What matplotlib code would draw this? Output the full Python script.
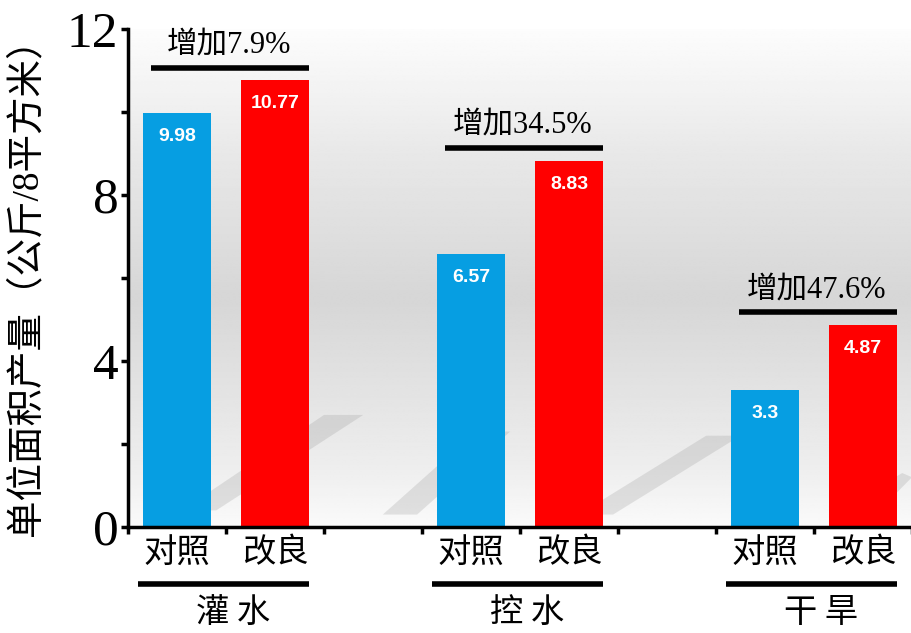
import matplotlib.pyplot as plt
import numpy as np
from matplotlib.patches import Polygon

# data
groups = ['灌 水', '控 水', '干 旱']
series = ['对照', '改良']
control = [9.98, 6.57, 3.3]
improved = [10.77, 8.83, 4.87]
increase = ['增加7.9%', '增加34.5%', '增加47.6%']

blue = '#069ee2'
red = '#ff0000'
cjk = ['Noto Sans CJK SC', 'DejaVu Sans']
mixed = ['Liberation Serif', 'Noto Sans CJK SC']

fig = plt.figure(figsize=(9.12, 6.33), dpi=100)
ax = fig.add_axes([128/912, 1-527/633, 1-128/912, (527-29)/633])

# background gradient (white at top, gray in the middle, white at bottom)
yy = np.linspace(0, 12, 300)
shade = np.interp(yy, [0, 1.5, 5.5, 9, 12], [0.98, 0.93, 0.84, 0.91, 0.99])
grad = np.repeat(shade[::-1, None], 2, axis=1)
ax.imshow(grad, cmap='gray', vmin=0, vmax=1, extent=[0, 8, 0, 12],
          aspect='auto', zorder=0, interpolation='bilinear')

# soft diagonal shadows behind the bars
for pts in [[(0.55, 0.4), (0.9, 0.4), (2.4, 2.7), (2.0, 2.7)],
            [(2.6, 0.3), (2.95, 0.3), (3.9, 2.3), (3.55, 2.3)],
            [(4.6, 0.3), (4.95, 0.3), (6.25, 2.2), (5.9, 2.2)],
            [(7.4, 0.6), (7.75, 0.6), (8.0, 1.2), (7.9, 1.3)]]:
    ax.add_patch(Polygon(pts, closed=True, facecolor='0.55', alpha=0.22,
                         edgecolor='none', zorder=1))

x = np.arange(len(groups)) * 3 + 0.5
w = 0.69
b1 = ax.bar(x, control, w, color=blue, zorder=2)
b2 = ax.bar(x + 1, improved, w, color=red, zorder=2)

for rects in (b1, b2):
    for r in rects:
        h = r.get_height()
        ax.text(r.get_x() + r.get_width()/2, h - 0.57, '%g' % h,
                ha='center', va='center', color='white', fontsize=14,
                family='Liberation Sans', fontweight='bold', zorder=3)

# increase annotations with bars above each group
for i in range(len(groups)):
    ly = improved[i] + 0.3
    ax.plot([x[i] - 0.27, x[i] + 1.35], [ly, ly], color='black', lw=4,
            solid_capstyle='butt', zorder=3, clip_on=False)
    ax.text(x[i] + 0.53, ly + 0.2, increase[i], ha='center', va='bottom',
            fontsize=22, family=mixed, zorder=3)

# category labels under axis
trans = ax.get_xaxis_transform()
for i in range(len(groups)):
    ax.text(x[i], -0.052, series[0], transform=trans, ha='center', va='center',
            fontsize=24, family=cjk)
    ax.text(x[i] + 1, -0.052, series[1], transform=trans, ha='center', va='center',
            fontsize=24, family=cjk)
    ax.plot([x[i] - 0.4, x[i] + 1.35], [-0.114, -0.114], transform=trans,
            color='black', lw=4, solid_capstyle='butt', clip_on=False)
    ax.text(x[i] + 0.57, -0.172, groups[i], transform=trans, ha='center',
            va='center', fontsize=24, family=cjk)

ax.set_xlim(0, 8)
ax.set_ylim(0, 12)
ax.set_xticks(np.arange(0, 9))
ax.set_xticklabels([])
ax.set_yticks([0, 4, 8, 12])
ax.set_yticks([2, 6, 10], minor=True)
ax.set_yticklabels(['0', '4', '8', '12'], family='Liberation Serif', fontsize=37)
ax.tick_params(axis='both', which='both', direction='out', length=5, width=2.5,
               color='black')
ax.tick_params(axis='y', pad=2)
for s in ['top', 'right']:
    ax.spines[s].set_visible(False)
for s in ['left', 'bottom']:
    ax.spines[s].set_linewidth(2.5)

fig.text(27/912, 1-278/633, '单位面积产量（公斤/8平方米）', rotation=90,
         ha='center', va='center', fontsize=27, family=mixed)

plt.savefig('out.png', dpi=100)
